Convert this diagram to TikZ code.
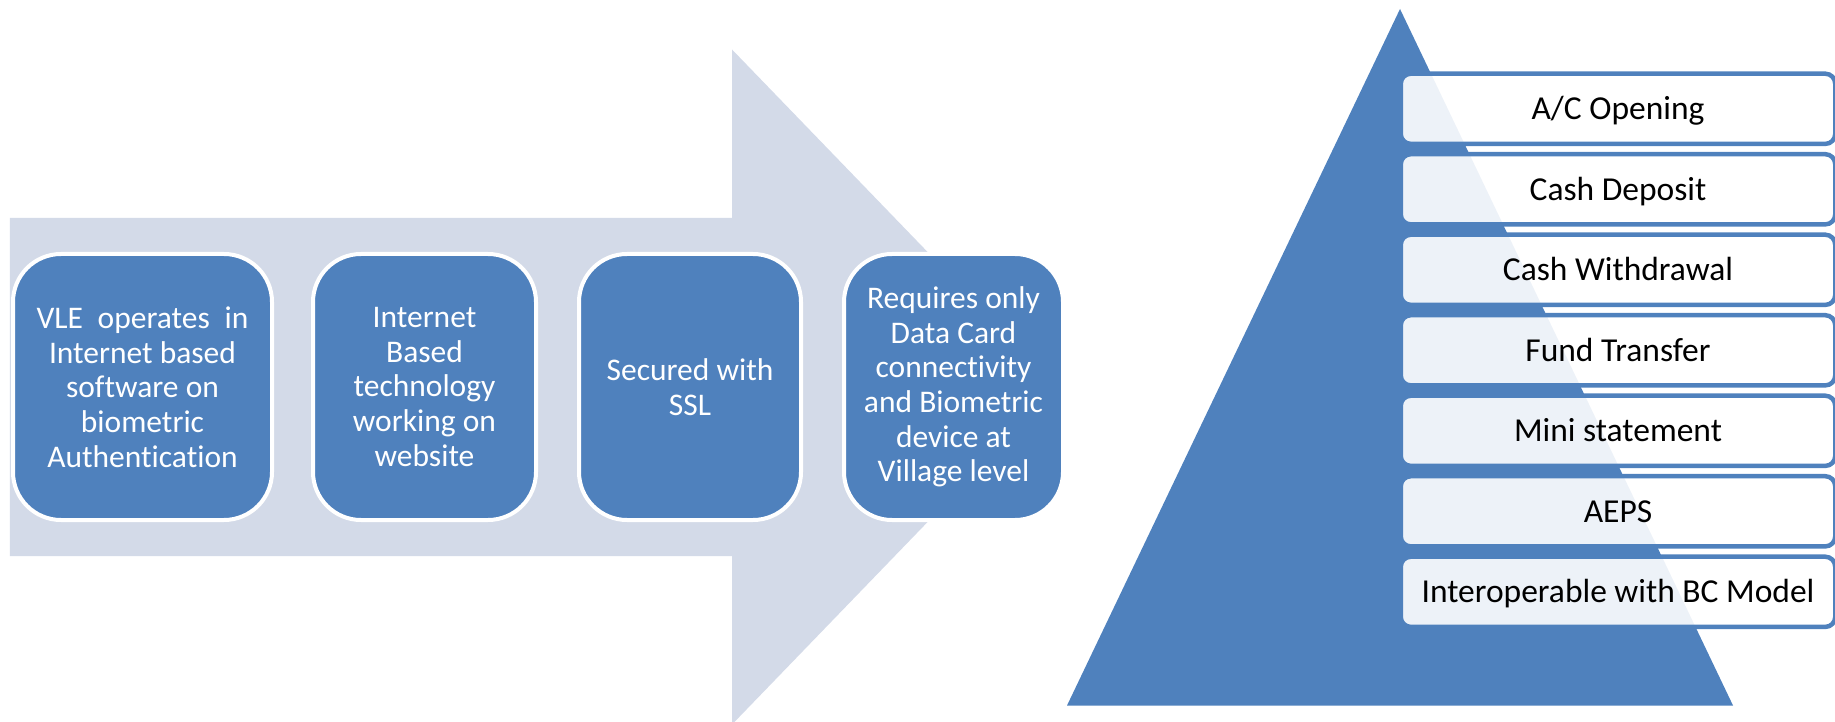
\documentclass[tikz,border=0pt]{standalone}
\usepackage{fontspec}
\setmainfont{Carlito}[Ligatures=NoCommon]
\definecolor{accent}{HTML}{4F81BD}
\definecolor{arrowbg}{HTML}{D3DAE8}
\begin{document}
\begin{tikzpicture}[x=1pt,y=1pt,
  stage/.style={rectangle, rounded corners=48pt, fill=accent, draw=white,
    line width=4pt, minimum height=266pt, text=white, align=center,
    font=\fontsize{31.5}{34.7}\selectfont, inner sep=0pt},
  service/.style={rectangle, rounded corners=10pt, draw=accent,
    line width=4.5pt, fill=white, fill opacity=0.9, text opacity=1,
    minimum width=434.5pt, minimum height=70.2pt, text=black,
    font=\fontsize{33.5}{40}\selectfont, inner sep=0pt,
    text height=21.6pt, text depth=0pt}]
\useasboundingbox (0,0) rectangle (1835,721);

% background process arrow
\fill[arrowbg] (9.8,503.2) -- (732,503.2) -- (732,671.5) -- (1058,334)
  -- (732,-3.5) -- (732,165) -- (9.8,165) -- cycle;

% process stages
\node[stage, minimum width=259pt] (b1) at (142.5,334)
  {\makebox[212pt][s]{VLE operates in}\\Internet based\\software on\\biometric\\Authentication};
\node[stage, minimum width=223pt] (b2) at (424.5,334)
  {Internet\\Based\\technology\\working on\\website};
\node[stage, minimum width=222pt] (b3) at (690,334)
  {Secured with\\SSL};
\node[stage, minimum width=219pt] (b4) at (953.5,334)
  {Requires only\\Data Card\\connectivity\\and Biometric\\device at\\Village level};

% pyramid
\fill[accent] (1400,712) -- (1733,15.5) -- (1067,15.5) -- cycle;

% services list
\node[service] (r1) at (1618,612.2) {A/C Opening};
\node[service] (r2) at (1618,531.7) {Cash Deposit};
\node[service] (r3) at (1618,451.2) {Cash Withdrawal};
\node[service] (r4) at (1618,370.7) {Fund Transfer};
\node[service] (r5) at (1618,290.2) {Mini statement};
\node[service] (r6) at (1618,209.7) {AEPS};
\node[service] (r7) at (1618,129.2) {Interoperable with BC Model};
\end{tikzpicture}
\end{document}
